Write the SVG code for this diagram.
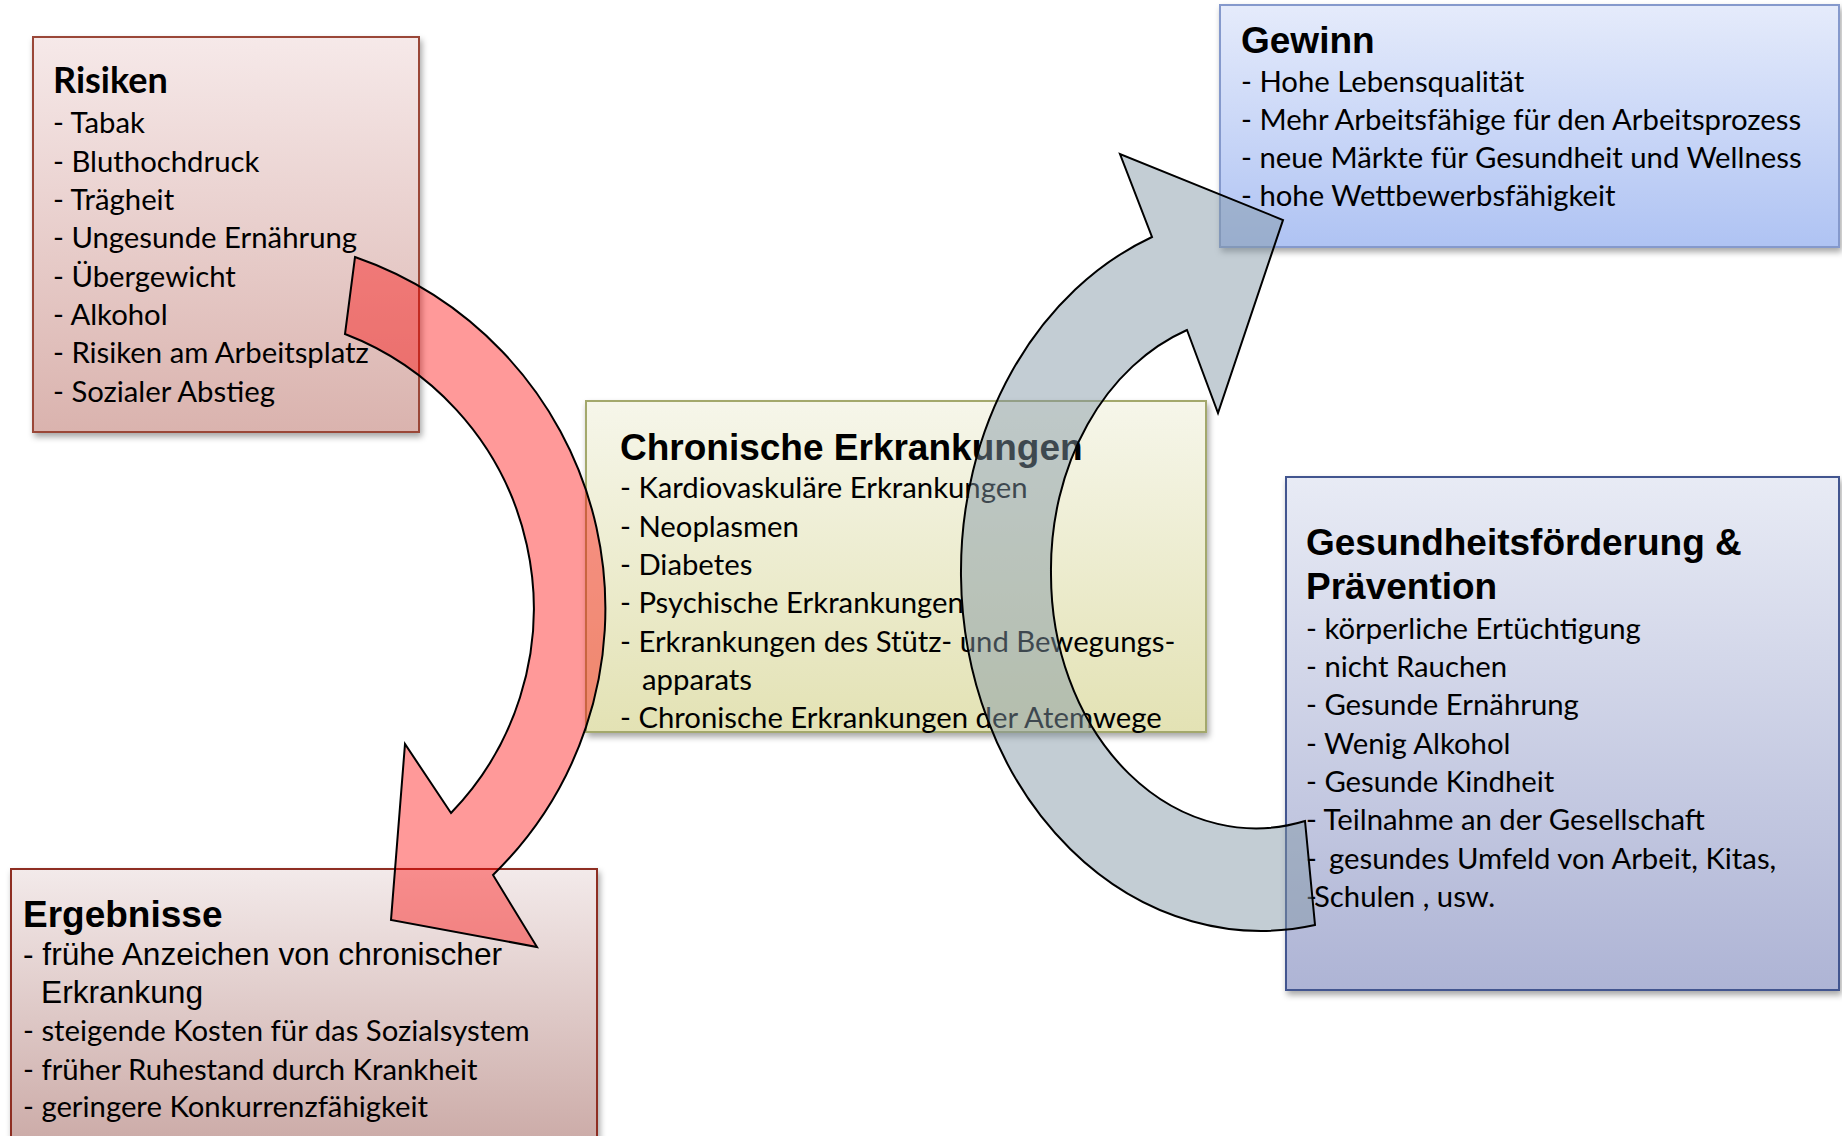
<svg xmlns="http://www.w3.org/2000/svg" width="1842" height="1136" viewBox="0 0 1842 1136">
<defs>
<style>
.t{font-family:"Liberation Sans",Arial,sans-serif;font-weight:bold;font-size:37px;fill:#000}
.tc{font-family:Lato,"Liberation Sans",sans-serif;font-weight:bold;font-size:36px;fill:#000}
.i{font-family:Lato,"Liberation Sans",sans-serif;font-size:29.3px;fill:#000}
.ia{font-family:"Liberation Sans",Arial,sans-serif;font-size:31.7px;fill:#000}
.box{stroke-width:2}
.arrow{stroke:#000;stroke-width:2;stroke-linejoin:miter}
</style>
<linearGradient id="gR" x1="0" y1="0" x2="0" y2="1"><stop offset="0" stop-color="#F6E9E9"/><stop offset="1" stop-color="#DAB3AE"/></linearGradient>
<linearGradient id="gG" x1="0" y1="0" x2="0" y2="1"><stop offset="0" stop-color="#E5EBFB"/><stop offset="1" stop-color="#AFC3F3"/></linearGradient>
<linearGradient id="gC" x1="0" y1="0" x2="0" y2="1"><stop offset="0" stop-color="#F6F6EA"/><stop offset="1" stop-color="#E3E2B4"/></linearGradient>
<linearGradient id="gE" x1="0" y1="0" x2="0" y2="1"><stop offset="0" stop-color="#F3EAEA"/><stop offset="1" stop-color="#C8A5A1"/></linearGradient>
<linearGradient id="gP" x1="0" y1="0" x2="0" y2="1"><stop offset="0" stop-color="#E8EBF5"/><stop offset="1" stop-color="#AEB4D5"/></linearGradient>
<filter id="sh" x="-5%" y="-5%" width="115%" height="115%"><feDropShadow dx="2" dy="4" stdDeviation="3" flood-color="#000" flood-opacity="0.35"/></filter>
</defs>
<rect width="1842" height="1136" fill="#fff"/>

<g id="risiken">
<rect class="box" x="33" y="37" width="386" height="395" fill="url(#gR)" stroke="#9A4639" filter="url(#sh)"/>
<text class="tc" x="53" y="93">Risiken</text>
<text class="i" x="53" y="133">- Tabak</text>
<text class="i" x="53" y="172">- Bluthochdruck</text>
<text class="i" x="53" y="210">- Trägheit</text>
<text class="i" x="53" y="248">- Ungesunde Ernährung</text>
<text class="i" x="53" y="287">- Übergewicht</text>
<text class="i" x="53" y="325">- Alkohol</text>
<text class="i" x="53" y="363">- Risiken am Arbeitsplatz</text>
<text class="i" x="53" y="402">- Sozialer Abstieg</text>
</g>

<g id="gewinn">
<rect class="box" x="1220" y="5" width="619" height="242" fill="url(#gG)" stroke="#8599CC" filter="url(#sh)"/>
<text class="t" x="1241" y="53">Gewinn</text>
<text class="i" x="1241" y="92">- Hohe Lebensqualität</text>
<text class="i" x="1241" y="130">- Mehr Arbeitsfähige für den Arbeitsprozess</text>
<text class="i" x="1241" y="168">- neue Märkte für Gesundheit und Wellness</text>
<text class="i" x="1241" y="206">- hohe Wettbewerbsfähigkeit</text>
</g>

<g id="chronisch">
<rect class="box" x="586" y="401" width="620" height="331" fill="url(#gC)" stroke="#A3A86C" filter="url(#sh)"/>
<text class="t" x="620" y="460">Chronische Erkrankungen</text>
<text class="i" x="620" y="498">- Kardiovaskuläre Erkrankungen</text>
<text class="i" x="620" y="537">- Neoplasmen</text>
<text class="i" x="620" y="575">- Diabetes</text>
<text class="i" x="620" y="613">- Psychische Erkrankungen</text>
<text class="i" x="620" y="652">- Erkrankungen des Stütz- und Bewegungs-</text>
<text class="i" x="642" y="690">apparats</text>
<text class="i" x="620" y="728">- Chronische Erkrankungen der Atemwege</text>
</g>

<g id="ergebnisse">
<rect class="box" x="11" y="869" width="586" height="300" fill="url(#gE)" stroke="#8E2E22" filter="url(#sh)"/>
<text class="t" x="23" y="927">Ergebnisse</text>
<text class="ia" x="23" y="965">- frühe Anzeichen von chronischer</text>
<text class="ia" x="41" y="1003">Erkrankung</text>
<text class="i" x="23" y="1041">- steigende Kosten für das Sozialsystem</text>
<text class="i" x="23" y="1080">- früher Ruhestand durch Krankheit</text>
<text class="i" x="23" y="1117">- geringere Konkurrenzfähigkeit</text>
</g>

<g id="praevention">
<rect class="box" x="1286" y="477" width="553" height="513" fill="url(#gP)" stroke="#42548F" filter="url(#sh)"/>
<text class="t" x="1306" y="555">Gesundheitsförderung &amp;</text>
<text class="t" x="1306" y="599">Prävention</text>
<text class="i" x="1306" y="639">- körperliche Ertüchtigung</text>
<text class="i" x="1306" y="677">- nicht Rauchen</text>
<text class="i" x="1306" y="715">- Gesunde Ernährung</text>
<text class="i" x="1306" y="754">- Wenig Alkohol</text>
<text class="i" x="1306" y="792">- Gesunde Kindheit</text>
<text class="i" x="1306" y="830">- Teilnahme an der Gesellschaft</text>
<text class="i" x="1306" y="869">-<tspan x="1329">gesundes Umfeld von Arbeit, Kitas,</tspan></text>
<text class="i" x="1306" y="907">-<tspan x="1314">Schulen , usw.</tspan></text>
</g>

<g id="connectors">
<path class="arrow" d="M 355,257 A 372 372 0 0 1 493,875 L 537,947 L 391,920 L 405,744 L 451,813 A 294 294 0 0 0 345,334 Z" fill="#FF0000" fill-opacity="0.4"/>
<path class="arrow" d="M 1305,821 A 205 254 0 0 1 1051,573 A 205 254 0 0 1 1187,330 L 1218,413 L 1283,220 L 1120,154 L 1152,237 A 300 359 0 0 0 961,576 A 300 359 0 0 0 1315,925 Z" fill="#8296A6" fill-opacity="0.48"/>
</g>
</svg>
